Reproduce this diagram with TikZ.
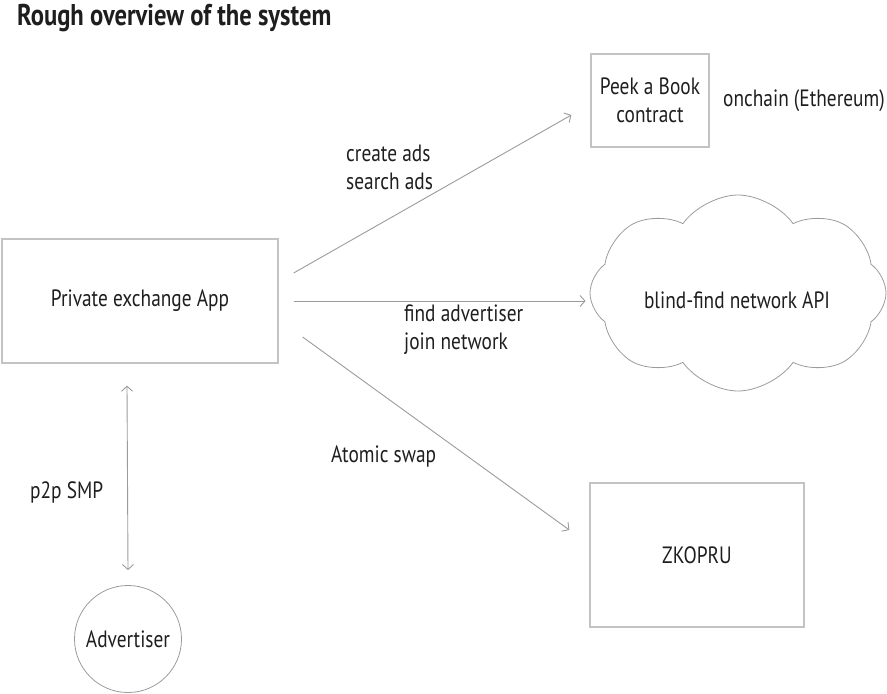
\documentclass[tikz,border=0pt]{standalone}
\usepackage{fontspec}
\setmainfont[FakeStretch=0.82]{PT Sans}
\usetikzlibrary{arrows.meta,shapes.symbols}
\definecolor{linegray}{RGB}{155,155,155}
\definecolor{boxgray}{RGB}{195,195,195}
\definecolor{inkgray}{RGB}{30,30,30}
\begin{document}
\begin{tikzpicture}[x=1pt, y=-1pt,
        box/.style={draw=boxgray, line width=1.3pt, text=inkgray, font=\fontsize{23.6}{28}\selectfont, align=center},
        lbl/.style={text=inkgray, font=\fontsize{23.6}{28}\selectfont, align=left, anchor=west, inner sep=0pt},
        link/.style={draw=linegray, line width=0.9pt, -{Straight Barb[length=5pt, width=11pt]}}]
        \useasboundingbox (0,0) rectangle (887,694);
        \node[lbl, font=\bfseries\fontsize{30}{34}\selectfont] (title) at (17,18) {Rough overview of the system};
        % boxes
        \node[box, minimum width=276, minimum height=124] (app) at (140,301) {Private exchange App};
        \node[box, minimum width=118, minimum height=93] (peek) at (650,100.5) {Peek a Book\\contract};
        \node[box, draw=linegray, line width=0.8pt, cloud, cloud puffs=8, cloud puff arc=110, aspect=1.5, minimum width=296, minimum height=196] (net) at (738,293) {};
        \node[lbl, anchor=center] (netlbl) at (737,300) {blind-find network API};
        \node[box, minimum width=214, minimum height=144] (zk) at (697,555) {ZKOPRU};
        \node[box, draw=linegray, line width=0.8pt, circle, minimum size=107] (adv) at (128,639) {Advertiser};
        % labels
        \node[lbl] (chain) at (723,101) {onchain (Ethereum)};
        \node[lbl] (ads) at (346,167) {create ads\\search ads};
        \node[lbl] (find) at (404,330) {find advertiser\\join network};
        \node[lbl] (swap) at (331,456) {Atomic swap};
        \node[lbl] (smp) at (30,492) {p2p SMP};
        % connectors
        \draw[link] ([xshift=15pt, yshift=28pt]app.east) -- ([xshift=-19pt, yshift=-14.5pt]peek.west);
        \draw[link] ([xshift=15pt]app.east) -- ([xshift=-4pt]net.west |- app.east);
        \draw[link] ([xshift=24pt, yshift=-36pt]app.east) -- ([xshift=-20pt, yshift=25pt]zk.west);
        \draw[link, {Straight Barb[length=5pt, width=11pt]}-{Straight Barb[length=5pt, width=11pt]}] ([xshift=-13pt, yshift=-22pt]app.south) -- ([yshift=15pt]adv.north);
    \end{tikzpicture}
\end{document}
